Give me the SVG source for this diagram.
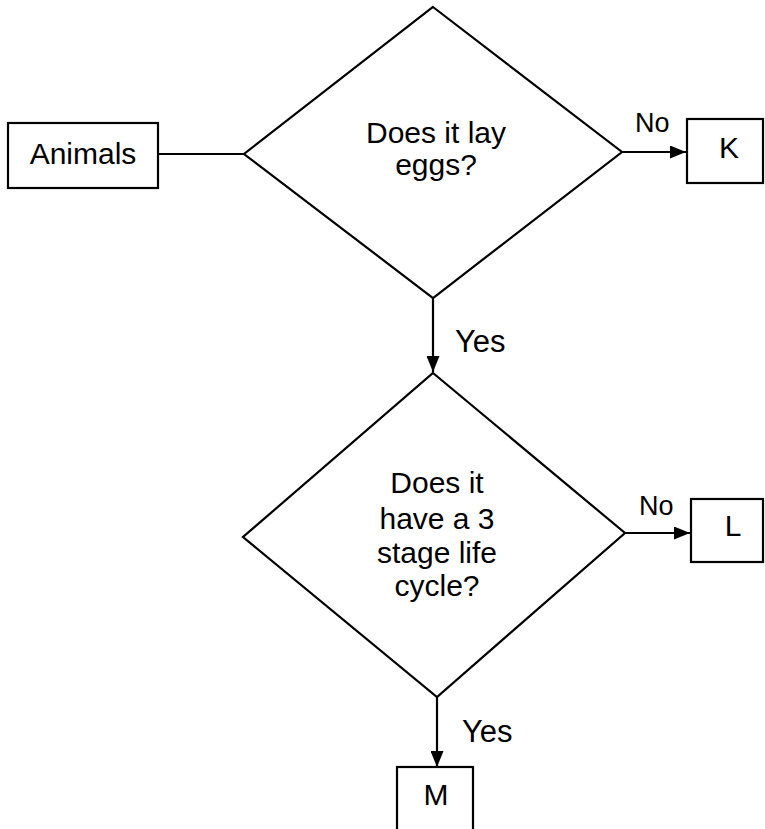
<svg xmlns="http://www.w3.org/2000/svg" width="765" height="829" viewBox="0 0 765 829">
<defs>
<marker id="ah" viewBox="0 0 16 13" refX="16" refY="6.5" markerWidth="16" markerHeight="13" markerUnits="userSpaceOnUse" orient="auto">
<path d="M0,0 L16,6.5 L0,13 Z" fill="#000"/>
</marker>
<style>
.shape{fill:#fff;stroke:#000;stroke-width:2.2}
.conn{fill:none;stroke:#000;stroke-width:2.2}
.t{font-family:"Liberation Sans",Arial,sans-serif;font-size:30px;fill:#000;text-anchor:middle}
.lbl{font-family:"Liberation Sans",Arial,sans-serif;font-size:27px;fill:#000}
.yes{font-family:"Liberation Sans",Arial,sans-serif;font-size:31px;fill:#000}
</style>
</defs>
<rect width="765" height="829" fill="#fff"/>
<g id="connectors">
<line class="conn" x1="158" y1="154" x2="244" y2="154"/>
<line class="conn" x1="622" y1="152" x2="686" y2="152" marker-end="url(#ah)"/>
<line class="conn" x1="433" y1="298" x2="433" y2="372" marker-end="url(#ah)"/>
<line class="conn" x1="625" y1="533" x2="690" y2="533" marker-end="url(#ah)"/>
<line class="conn" x1="437" y1="697" x2="437" y2="767" stroke-width="3" marker-end="url(#ah)"/>
<text class="lbl" x="635" y="132">No</text>
<text class="yes" x="455" y="352">Yes</text>
<text class="lbl" x="639" y="515">No</text>
<text class="yes" x="462" y="742">Yes</text>
</g>
<g id="animals">
<rect class="shape" x="8" y="123" width="150" height="65"/>
<text class="t" x="83" y="164">Animals</text>
</g>
<g id="q1">
<polygon class="shape" points="433,7 622,152 433,298 244,154"/>
<text class="t" x="436" y="143">Does it lay</text>
<text class="t" x="436" y="175">eggs?</text>
</g>
<g id="k">
<rect class="shape" x="687" y="119" width="76" height="64"/>
<text class="t" x="729" y="158">K</text>
</g>
<g id="q2">
<polygon class="shape" points="433,373 625,533 437,697 243,537"/>
<text class="t" x="437" y="493">Does it</text>
<text class="t" x="437" y="529">have a 3</text>
<text class="t" x="437" y="563">stage life</text>
<text class="t" x="437" y="596">cycle?</text>
</g>
<g id="l">
<rect class="shape" x="691" y="499" width="72" height="63"/>
<text class="t" x="733" y="536">L</text>
</g>
<g id="m">
<rect class="shape" x="397" y="767" width="76" height="80"/>
<text class="t" x="436" y="805">M</text>
</g>
</svg>
